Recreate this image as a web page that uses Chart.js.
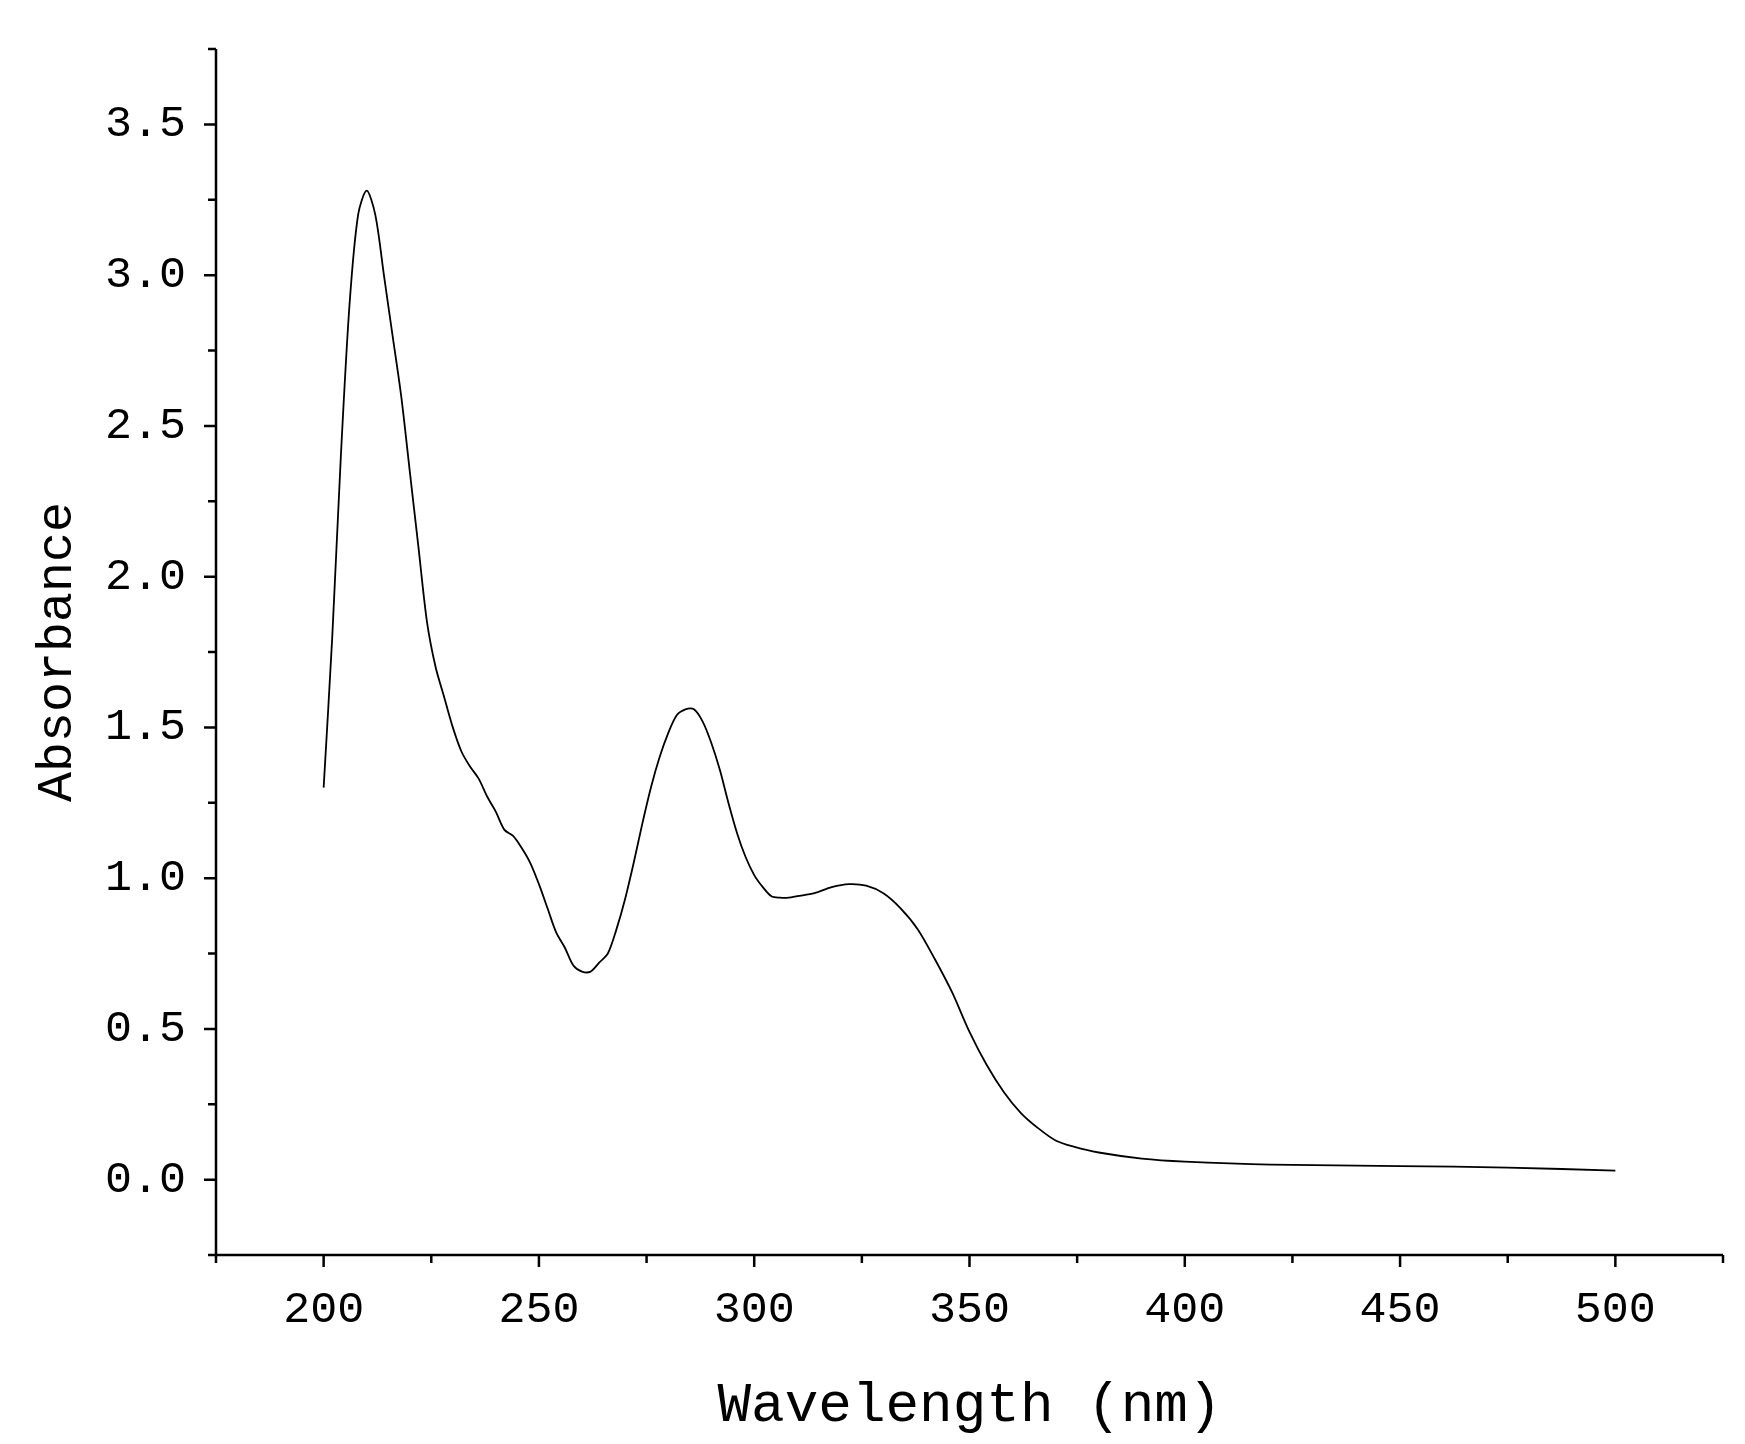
<!DOCTYPE html>
<html><head><meta charset="utf-8">
<script src="https://cdn.jsdelivr.net/npm/chart.js@4"></script>
<style>html,body{margin:0;padding:0;background:#fff}#w{width:1745px;height:1444px}</style>
</head><body><div id="w"><canvas id="c"></canvas></div>
<script>
const wavelengths = [200,202,204,206,208,210,212,214,216,218,220,222,224,226,228,230,232,234,236,238,240,242,244,246,248,250,252,254,256,258,260,262,264,266,268,270,272,274,276,278,280,282,284,286,288,290,292,294,296,298,300,302,304,306,308,310,314,318,322,326,330,334,338,342,346,350,354,358,362,366,370,374,380,390,400,420,450,475,500];
const absorbance = [1.30,1.80,2.40,2.90,3.20,3.28,3.20,3.00,2.80,2.60,2.35,2.10,1.85,1.70,1.60,1.50,1.42,1.37,1.33,1.27,1.22,1.16,1.14,1.10,1.05,0.98,0.90,0.82,0.77,0.71,0.69,0.69,0.72,0.75,0.83,0.93,1.05,1.18,1.30,1.40,1.48,1.54,1.56,1.56,1.52,1.45,1.36,1.25,1.15,1.07,1.01,0.97,0.94,0.935,0.935,0.94,0.95,0.97,0.98,0.975,0.95,0.90,0.83,0.73,0.62,0.49,0.38,0.29,0.22,0.17,0.13,0.11,0.09,0.07,0.06,0.05,0.045,0.04,0.03];
const xTicks = [200,250,300,350,400,450,500];
const yTicks = [0,0.5,1.0,1.5,2.0,2.5,3.0,3.5];
const xMinor = [175,225,275,325,375,425,475,525];
const yMinor = [-0.25,0.25,0.75,1.25,1.75,2.25,2.75,3.25,3.75];

const FONT = "'Liberation Mono', 'DejaVu Sans Mono', monospace";
const tickPlugin = {
  id:'ticks',
  afterDraw(chart){
    const c = chart.ctx, x = chart.scales.x, y = chart.scales.y, a = chart.chartArea;
    c.save(); c.strokeStyle='#000'; c.lineWidth=2.5;
    c.beginPath();
    c.moveTo(a.left,a.top); c.lineTo(a.left,a.bottom); c.lineTo(a.right,a.bottom);
    xTicks.forEach(v=>{const p=x.getPixelForValue(v);c.moveTo(p,a.bottom);c.lineTo(p,a.bottom+12);});
    xMinor.forEach(v=>{const p=x.getPixelForValue(v);c.moveTo(p,a.bottom);c.lineTo(p,a.bottom+8);});
    yTicks.forEach(v=>{const p=y.getPixelForValue(v);c.moveTo(a.left,p);c.lineTo(a.left-12,p);});
    yMinor.forEach(v=>{const p=y.getPixelForValue(v);c.moveTo(a.left,p);c.lineTo(a.left-8,p);});
    c.stroke(); c.restore();
  }
};
new Chart(document.getElementById('c'),{
  type:'line',
  data:{datasets:[{data:wavelengths.map((w,i)=>({x:w,y:absorbance[i]})),borderColor:'#000',borderWidth:1.8,pointRadius:0,tension:0.3,fill:false}]},
  options:{
    responsive:true,maintainAspectRatio:false,animation:false,
    layout:{padding:{top:41,right:22}},
    plugins:{legend:{display:false},tooltip:{enabled:false}},
    scales:{
      x:{type:'linear',min:175,max:525,
        afterBuildTicks(s){s.ticks=xTicks.map(v=>({value:v}));},
        afterFit(s){s.height=189;},
        grid:{display:false},border:{display:false},
        ticks:{color:'#000',font:{family:FONT,size:45},padding:20,maxRotation:0,callback:v=>String(v)},
        title:{display:true,text:'Wavelength (nm)',color:'#000',font:{family:FONT,size:56},padding:{top:0}}},
      y:{type:'linear',min:-0.25,max:3.75,
        afterBuildTicks(s){s.ticks=yTicks.map(v=>({value:v}));},
        afterFit(s){s.width=216;},
        grid:{display:false},border:{display:false},
        ticks:{color:'#000',font:{family:FONT,size:45},padding:22,callback:v=>Number(v).toFixed(1)},
        title:{display:true,text:'Absorbance',color:'#000',font:{family:FONT,size:50},padding:{top:28,bottom:4}}}
    }
  },
  plugins:[tickPlugin]
});
</script></body></html>
